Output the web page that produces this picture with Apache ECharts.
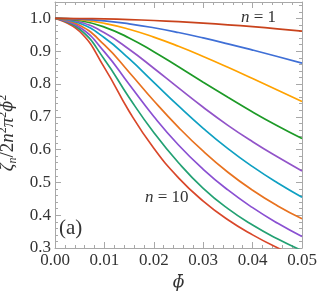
<!DOCTYPE html>
<html>
<head>
<meta charset="utf-8">
<script src="https://cdn.jsdelivr.net/npm/echarts@6/dist/echarts.min.js"></script>
<style>
html,body{margin:0;padding:0;background:#fff;}
#c{width:317px;height:296px;}
</style>
</head>
<body>
<div id="c"></div>
<script>
// phi-bar sample points
var phi = [0, 0.005, 0.01, 0.015, 0.02, 0.025, 0.03, 0.035, 0.04, 0.045, 0.05];
// curves n = 1 ... 10
var n1  = [1, 0.9996, 0.9984, 0.9964, 0.9936, 0.9900, 0.9856, 0.9805, 0.9747, 0.9682, 0.9610];
var n2  = [1, 0.998, 0.9925, 0.9835, 0.9715, 0.957, 0.9405, 0.9225, 0.9035, 0.8837, 0.8635];
var n3  = [1, 0.996, 0.985, 0.967, 0.943, 0.915, 0.884, 0.851, 0.8165, 0.7815, 0.7465];
var n4  = [1, 0.9935, 0.9735, 0.9405, 0.8985, 0.8525, 0.8055, 0.7595, 0.7145, 0.6725, 0.6335];
var n5  = [1, 0.989, 0.956, 0.906, 0.848, 0.788, 0.729, 0.674, 0.624, 0.578, 0.535];
var n6  = [1, 0.985, 0.941, 0.877, 0.805, 0.733, 0.665, 0.603, 0.548, 0.499, 0.455];
var n7  = [1, 0.979, 0.919, 0.836, 0.749, 0.668, 0.595, 0.531, 0.476, 0.429, 0.389];
var n8  = [1, 0.973, 0.898, 0.799, 0.701, 0.614, 0.540, 0.477, 0.423, 0.376, 0.335];
var n9  = [1, 0.967, 0.875, 0.759, 0.652, 0.560, 0.482, 0.420, 0.370, 0.328, 0.292];
var n10 = [1, 0.960, 0.850, 0.717, 0.604, 0.514, 0.443, 0.386, 0.340, 0.301, 0.268];
var curves = [n1, n2, n3, n4, n5, n6, n7, n8, n9, n10];
var colors = ['#c9431c', '#3f6fd6', '#ffa200', '#1d9a27', '#9254c9', '#0fa0c2', '#e8721f', '#8a50d2', '#23a173', '#d9472a'];
var xTicks = [0, 0.01, 0.02, 0.03, 0.04, 0.05];
var yTicks = [0.3, 0.4, 0.5, 0.6, 0.7, 0.8, 0.9, 1.0];

var font = 'Liberation Serif';
var mfont = 'DejaVu Serif';
var labelColor = '#333';
var frame = '#a8a8a8';

function xAxisCfg(pos, labels) {
  return {
    type: 'value', position: pos, min: 0, max: 0.05, interval: 0.01,
    axisLine: {show: true, onZero: false, lineStyle: {color: frame, width: 1}},
    axisTick: {show: true, inside: true, length: 6, lineStyle: {color: frame}},
    minorTick: {show: true, splitNumber: 5, length: 3, lineStyle: {color: frame}},
    splitLine: {show: false},
    axisLabel: {show: labels, fontFamily: font, fontSize: 17, color: labelColor, margin: 4,
      formatter: function (v) { return xTicks.indexOf(Math.round(v * 100) / 100) >= 0 ? v.toFixed(2) : ''; }},
    name: labels ? '{i|\u03D5\u0304}' : '', nameLocation: 'middle', nameGap: 25,
    nameTextStyle: {rich: {i: {fontFamily: mfont, fontSize: 17, fontStyle: 'italic', color: labelColor}}}
  };
}
function yAxisCfg(pos, labels) {
  return {
    type: 'value', position: pos, min: 0.3, max: 1.05, interval: 0.1,
    axisLine: {show: true, onZero: false, lineStyle: {color: frame, width: 1}},
    axisTick: {show: true, inside: true, length: 6, lineStyle: {color: frame}},
    minorTick: {show: true, splitNumber: 5, length: 3, lineStyle: {color: frame}},
    splitLine: {show: false},
    axisLabel: {show: labels, fontFamily: font, fontSize: 17, color: labelColor, margin: 4, showMaxLabel: false,
      formatter: function (v) { var r = Math.round(v * 10) / 10; return (Math.abs(r - v) < 1e-6 && yTicks.indexOf(r) >= 0) ? v.toFixed(1) : ''; }},
    name: labels ? '{i|\u03B6}{s|n}{r|/2}{i|n}{p|2}{i|\u03C0}{p|2}{m|\u03D5\u0304}{p|2}' : '',
    nameLocation: 'middle', nameRotate: 90, nameGap: 33,
    nameTextStyle: {padding: [0, 16, 0, 0], rich: {
      i: {fontFamily: font, fontSize: 19, fontStyle: 'italic', color: labelColor, lineHeight: 22, verticalAlign: 'middle'},
      m: {fontFamily: mfont, fontSize: 16, fontStyle: 'italic', color: labelColor, lineHeight: 22, verticalAlign: 'middle'},
      r: {fontFamily: font, fontSize: 19, color: labelColor, lineHeight: 22, verticalAlign: 'middle'},
      p: {fontFamily: font, fontSize: 12, color: labelColor, lineHeight: 22, verticalAlign: 'top'},
      s: {fontFamily: font, fontSize: 12, fontStyle: 'italic', color: labelColor, lineHeight: 22, verticalAlign: 'bottom'}
    }}
  };
}

var series = curves.map(function (c, i) {
  return {
    type: 'line', name: 'n=' + (i + 1), xAxisIndex: 0, yAxisIndex: 0,
    data: phi.map(function (p, k) { return [p, c[k]]; }),
    smooth: 0.5, showSymbol: false, clip: true,
    lineStyle: {color: colors[i], width: 1.7}, itemStyle: {color: colors[i]},
    z: 20 - i
  };
});

var chart = echarts.init(document.getElementById('c'), null, {renderer: 'canvas'});
chart.setOption({
  animation: false,
  backgroundColor: '#fff',
  grid: {left: 55, right: 15, top: 2, bottom: 48, containLabel: false, outerBoundsMode: 'none'},
  xAxis: [xAxisCfg('bottom', true), xAxisCfg('top', false)],
  yAxis: [yAxisCfg('left', true), yAxisCfg('right', false)],
  series: series,
  graphic: [
    {type: 'text', left: 241, top: 9, z: 100, style: {
      text: '{i|n}{r| = 1}', rich: {
        i: {fontFamily: font, fontSize: 17, fontStyle: 'italic', fill: labelColor},
        r: {fontFamily: font, fontSize: 17, fill: labelColor}}}},
    {type: 'text', left: 145, top: 189, z: 100, style: {
      text: '{i|n}{r| = 10}', rich: {
        i: {fontFamily: font, fontSize: 17, fontStyle: 'italic', fill: labelColor},
        r: {fontFamily: font, fontSize: 17, fill: labelColor}}}},
    {type: 'text', left: 59, top: 218, z: 100, style: {
      text: '(a)', fontFamily: font, fontSize: 21, fill: labelColor}}
  ]
});
</script>
</body>
</html>
